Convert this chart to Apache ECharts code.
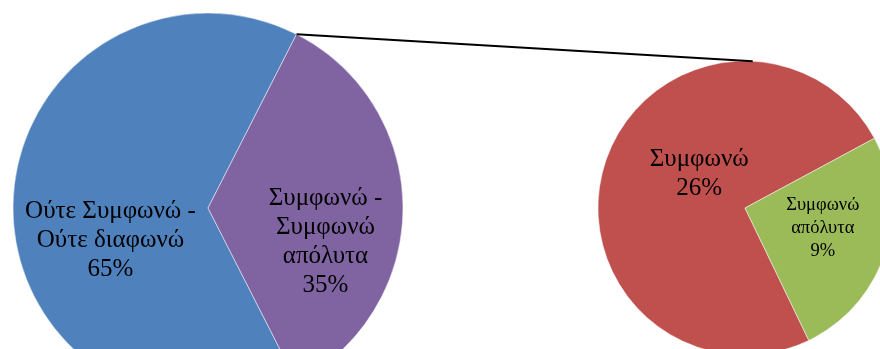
<!DOCTYPE html>
<html>
<head>
<meta charset="utf-8">
<script src="https://cdn.jsdelivr.net/npm/echarts@6/dist/echarts.min.js"></script>
<style>
html, body { margin: 0; padding: 0; background: #fff; }
#chart { width: 880px; height: 349px; }
</style>
</head>
<body>
<div id="chart"></div>
<script>
// main pie
var mainNames = ['Ούτε Συμφωνώ -\nΟύτε διαφωνώ', 'Συμφωνώ -\nΣυμφωνώ\nαπόλυτα'];
var mainValues = [65, 35];
var mainColors = ['#4F81BD', '#8064A2'];

// secondary pie (split of the 35%)
var subNames = ['Συμφωνώ', 'Συμφωνώ\nαπόλυτα'];
var subValues = [26, 9];
var subColors = ['#C0504D', '#9BBB59'];

var mainCenter = [208, 208], mainR = 195;
var subCenter = [745, 208], subR = 147;

function showChart(divId) {
	var chart = echarts.init(document.getElementById(divId));
	chart.setOption(genOption());
}

function genOption() {
	var total = mainValues[0] + mainValues[1];
	var halfSplit = mainValues[1] / total * 180;          // split slice centred on 3 o'clock
	var mainStart = 360 - halfSplit;
	var subTotal = subValues[0] + subValues[1];
	var greenTop = 28.3;
	var subStart = greenTop + subValues[0] / subTotal * 360;

	var rad = Math.PI / 180;
	var p1 = [mainCenter[0] + mainR * Math.cos(halfSplit * rad), mainCenter[1] - mainR * Math.sin(halfSplit * rad)];
	var p2 = [subCenter[0] + subR * Math.cos(87 * rad), subCenter[1] - subR * Math.sin(87 * rad)];

	var mainData = mainNames.map(function (n, i) {
		return { name: n, value: mainValues[i], itemStyle: { color: mainColors[i] } };
	});
	var subData = subNames.map(function (n, i) {
		return {
			name: n, value: subValues[i], itemStyle: { color: subColors[i] },
			label: i == 1 ? { fontSize: 18.5, lineHeight: 23 } : {}
		};
	});
	var mainShift = [[3, 32], [17, 34]];
	var subShift = [[27, -10], [5, -3]];

	return {
		animation : false,
		series : [ {
			type : 'pie',
			center : mainCenter,
			radius : mainR,
			startAngle : mainStart,
			clockwise : true,
			silent : true,
			itemStyle : { borderColor : 'rgba(255,255,255,0.6)', borderWidth : 0.8 },
			label : {
				position : 'inside',
				formatter : '{b}\n{c}%',
				color : '#000',
				fontFamily : 'Liberation Serif',
				fontSize : 25,
				lineHeight : 29
			},
			labelLayout : function (p) {
				return { dx : mainShift[p.dataIndex][0], dy : mainShift[p.dataIndex][1] };
			},
			data : mainData
		}, {
			type : 'pie',
			center : subCenter,
			radius : subR,
			startAngle : subStart,
			clockwise : true,
			silent : true,
			itemStyle : { borderColor : 'rgba(255,255,255,0.6)', borderWidth : 0.8 },
			label : {
				position : 'inside',
				formatter : '{b}\n{c}%',
				color : '#000',
				fontFamily : 'Liberation Serif',
				fontSize : 25,
				lineHeight : 29
			},
			labelLayout : function (p) {
				return { dx : subShift[p.dataIndex][0], dy : subShift[p.dataIndex][1] };
			},
			data : subData
		} ],
		graphic : [ {
			type : 'line',
			shape : { x1 : p1[0], y1 : p1[1], x2 : p2[0], y2 : p2[1] },
			style : { stroke : '#000', lineWidth : 2 },
			z : 10
		} ]
	};
}

showChart('chart');
</script>
</body>
</html>
